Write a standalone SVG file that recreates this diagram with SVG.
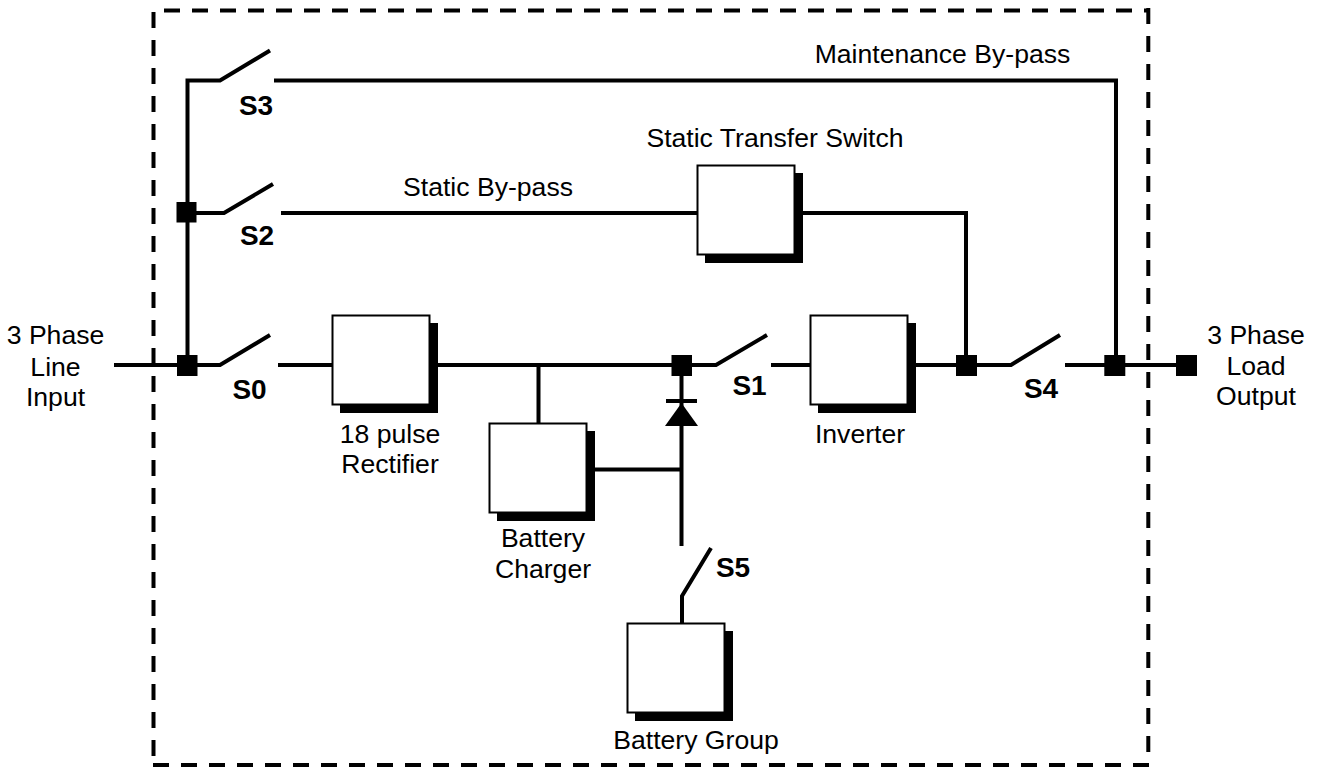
<svg xmlns="http://www.w3.org/2000/svg" width="1319" height="767" viewBox="0 0 1319 767">
<style>
.w{fill:none;stroke:#000;stroke-width:4}
.d{fill:#000}
.b{fill:#fff;stroke:#000;stroke-width:2}
.f{fill:none;stroke:#000;stroke-width:4;stroke-dasharray:16 12}
.t{font-family:"Liberation Sans",Arial,sans-serif;font-size:26.6px;fill:#000;text-anchor:middle}
.s{font-family:"Liberation Sans",Arial,sans-serif;font-size:28px;font-weight:700;fill:#000;text-anchor:middle}
</style>
<rect width="1319" height="767" fill="#fff"/>
<g id="connectors">
<path class="w" d="M114 365H220L270 335M278 365H332M438 365H716L767 335M771 365H810M916 365H1011L1060 335M1065 365H1187"/>
<path class="w" d="M187.500 365V80.500H220L270 50.500M274 80.500H1116V365"/>
<path class="w" d="M187 213H224L273 184M281 213H697M803 213H966V365"/>
<path class="w" d="M538.500 365V423M595 469.500H681.500"/>
<path class="w" d="M681.500 365V546M711 548L682 596V623"/>
<path class="w" d="M666 401H697"/>
<path class="d" d="M681.500 403L698 426H665Z"/>
</g>
<g id="frame">
<path class="f" d="M164 10.500H1150"/>
<path class="f" d="M153.500 12V760"/>
<path class="f" d="M1148.300 8V760"/>
<path class="f" d="M153 765H1150"/>
</g>
<g id="junctions">
<rect class="d" x="176.500" y="202" width="20" height="20.500"/>
<rect class="d" x="177" y="355" width="20.500" height="21"/>
<rect class="d" x="671.500" y="355" width="20.500" height="21"/>
<rect class="d" x="956" y="355" width="21" height="21"/>
<rect class="d" x="1104.300" y="355" width="21" height="21"/>
<rect class="d" x="1176" y="355" width="21" height="21"/>
</g>
<g id="rectifier"><rect class="d" x="340" y="323" width="98" height="90"/><rect class="b" x="332.500" y="315.500" width="97" height="89"/><text class="t" x="390" y="443">18 pulse</text><text class="t" x="390" y="473">Rectifier</text></g>
<g id="static-switch"><rect class="d" x="705" y="173" width="98" height="90"/><rect class="b" x="697.500" y="165.500" width="97" height="89"/><text class="t" x="775" y="147">Static Transfer Switch</text></g>
<g id="inverter"><rect class="d" x="818" y="323" width="98" height="90"/><rect class="b" x="810.500" y="315.500" width="97" height="89"/><text class="t" x="860" y="443">Inverter</text></g>
<g id="charger"><rect class="d" x="497" y="431" width="98" height="90"/><rect class="b" x="489.500" y="423.500" width="97" height="89"/><text class="t" x="543" y="547">Battery</text><text class="t" x="543" y="578">Charger</text></g>
<g id="battery-group"><rect class="d" x="635" y="631" width="98" height="90"/><rect class="b" x="627.500" y="623.500" width="97" height="89"/><text class="t" x="696" y="749">Battery Group</text></g>
<g id="labels">
<text class="t" x="942.500" y="62.500">Maintenance By-pass</text>
<text class="t" x="488" y="195.500">Static By-pass</text>
<text class="t" x="55.500" y="344">3 Phase</text><text class="t" x="55.500" y="376">Line</text><text class="t" x="55.500" y="406">Input</text>
<text class="t" x="1256" y="344">3 Phase</text><text class="t" x="1256" y="375">Load</text><text class="t" x="1256" y="405">Output</text>
<text class="s" x="256" y="115">S3</text><text class="s" x="257" y="245">S2</text><text class="s" x="249.500" y="399">S0</text>
<text class="s" x="749.500" y="395">S1</text><text class="s" x="1041" y="398">S4</text><text class="s" x="733" y="577">S5</text>
</g>
</svg>
